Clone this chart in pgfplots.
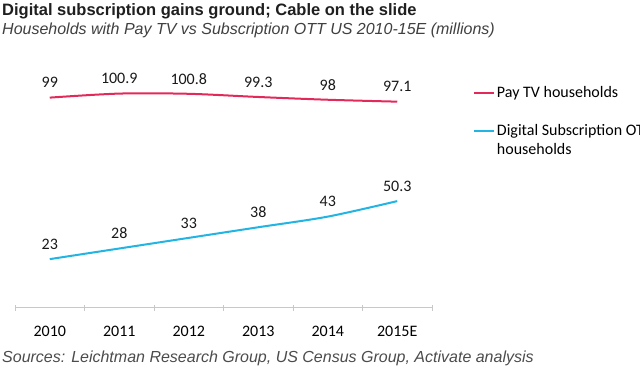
\documentclass[border=0pt]{standalone}
\usepackage{pgfplots}
\pgfplotsset{compat=1.18}
\usepackage{fontspec}
\setmainfont{Liberation Sans}
\newfontfamily\helv{Liberation Sans}
\newfontfamily\carlito{Carlito}
\definecolor{payred}{HTML}{E3285A}
\definecolor{ottcyan}{HTML}{22B4E2}
\definecolor{axisgray}{HTML}{C8C8C8}
\begin{document}
\begin{tikzpicture}
\useasboundingbox (0,0) rectangle (640bp,369bp);
\fill[white] (0,0) rectangle (640bp,369bp);
\node[anchor=base west, inner sep=0pt, text=black!88, font=\helv\bfseries\fontsize{16.5bp}{19bp}\selectfont] at (2bp,353bp) {Digital subscription gains ground; Cable on the slide};
\node[anchor=base west, inner sep=0pt, text=black!75, font=\helv\itshape\fontsize{16bp}{19bp}\selectfont] at (2bp,334.5bp) {Households with Pay TV vs Subscription OTT US 2010-15E (millions)};
\node[anchor=base west, inner sep=0pt, text=black!70, font=\helv\itshape\fontsize{16bp}{19bp}\selectfont] at (2bp,6.5bp) {Sources: Leichtman Research Group, US Census Group, Activate analysis};
\begin{axis}[
  at={(15bp,61bp)}, anchor=south west, scale only axis,
  width=417bp, height=233.75bp,
  xmin=-0.5, xmax=5.5, ymin=0, ymax=110,
  axis x line*=bottom, hide y axis,
  axis line style={axisgray, line width=1bp},
  xtick={0,1,2,3,4,5},
  xticklabels={2010,2011,2012,2013,2014,2015E},
  major tick length=0pt,
  minor xtick={-0.5,0.5,1.5,2.5,3.5,4.5,5.5},
  minor tick length=6bp, tick align=center,
  minor tick style={axisgray, line width=1bp},
  xticklabel style={font=\carlito\fontsize{16bp}{19bp}\selectfont, text=black, anchor=center, yshift=-23bp},
  clip=false,
  nodes near coords,
  every node near coord/.append style={font=\carlito\fontsize{16bp}{19bp}\selectfont, text=black!90, anchor=center, yshift=15bp},
  /pgf/number format/assume math mode=true,
  legend cell align=left,
  legend style={at={(1.0983,0.9604)}, anchor=north west, draw=none, fill=none,
    inner sep=0pt, outer sep=0pt, row sep=0pt, column sep=0pt,
    font=\carlito\fontsize{16bp}{19bp}\selectfont,
    nodes={inner xsep=2bp, inner ysep=0pt, minimum height=19bp, text height=11bp, text depth=3bp}},
  legend image code/.code={\draw[#1, line width=2bp] (0bp,0bp) -- (20bp,0bp);},
]
\addplot[payred, line width=2bp, smooth] coordinates {(0,99) (1,100.9) (2,100.8) (3,99.3) (4,98) (5,97.1)};
\addlegendentry{Pay TV households}
\addlegendimage{empty legend}
\addlegendentry{}
\addplot[ottcyan, line width=2bp, smooth] coordinates {(0,23) (1,28) (2,33) (3,38) (4,43) (5,50.3)};
\addlegendentry{Digital Subscription OTT}
\addlegendimage{empty legend}
\addlegendentry{households}
\end{axis}
\end{tikzpicture}
\end{document}
